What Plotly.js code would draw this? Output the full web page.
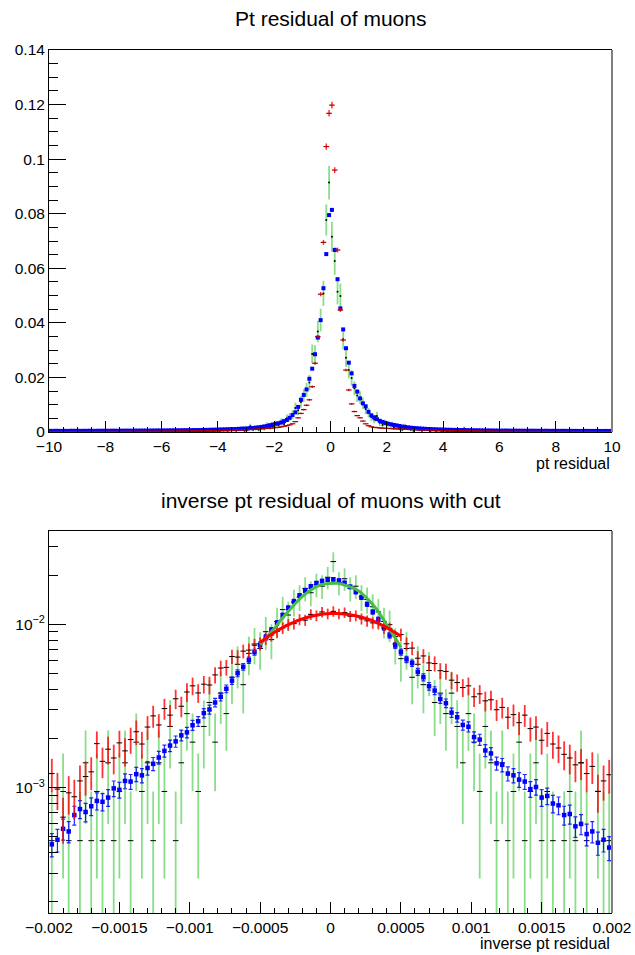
<!DOCTYPE html>
<html><head><meta charset="utf-8">
<script src="https://cdn.plot.ly/plotly-3.0.1.min.js"></script>
<style>html,body{margin:0;padding:0;background:#fff}#chart{width:635px;height:955px}</style>
</head><body><div id="chart"></div>
<script>
// ---------- binning (data ranges) ----------
const topRange = [-10, 10];
const topNBins = 200;
const botRange = [-0.002, 0.002];
const botNBins = 100;

// ---------- texts ----------
const topTitle = "Pt residual of muons";
const botTitle = "inverse pt residual of muons with cut";
const topXTitle = "pt residual";
const botXTitle = "inverse pt residual";
const botXTickVals = [-0.002,-0.0015,-0.001,-0.0005,0,0.0005,0.001,0.0015,0.002];
const botXTickText = ["\u22120.002","\u22120.0015","\u22120.001","\u22120.0005","0","0.0005","0.001","0.0015","0.002"];
const botYTickVals = [0.001, 0.01];
const botYTickText = ["10<sup>\u22123</sup>","10<sup>\u22122</sup>"];
const botYMinorVals = [2e-4,3e-4,4e-4,5e-4,6e-4,7e-4,8e-4,9e-4,2e-3,3e-3,4e-3,5e-3,6e-3,7e-3,8e-3,9e-3,2e-2,3e-2];

// ---------- top panel: Pt residual (200 bins) ----------
const topBlue = [
0.00042,0.00039,0.00044,0.00041,0.00040,0.00043,0.00038,0.00042,0.00045,0.00041,0.00043,0.00040,0.00044,0.00042,0.00046,0.00043,0.00041,0.00045,0.00044,0.00047,
0.00045,0.00043,0.00048,0.00046,0.00044,0.00049,0.00047,0.00050,0.00048,0.00046,0.00051,0.00049,0.00052,0.00050,0.00053,0.00051,0.00054,0.00052,0.00056,0.00055,
0.00057,0.00055,0.00058,0.00060,0.00059,0.00062,0.00061,0.00064,0.00066,0.00065,0.00068,0.00070,0.00069,0.00073,0.00075,0.00077,0.00079,0.00082,0.00084,0.00087,
0.00090,0.00093,0.00096,0.00100,0.00103,0.00107,0.00111,0.00116,0.00121,0.00126,0.00132,0.00140,0.00149,0.00160,0.00172,0.00186,0.00205,0.00225,0.00250,0.00275,
0.0030,0.0032,0.0035,0.0040,0.0044,0.0052,0.0062,0.0072,0.0092,0.0118,0.0136,0.0156,0.0195,0.0232,0.0285,0.0346,0.0410,0.0527,0.0652,0.0795,
0.0814,0.0667,0.0560,0.0453,0.0376,0.0307,0.0254,0.0215,0.0169,0.0148,0.0123,0.0105,0.0094,0.0074,0.0061,0.0054,0.0047,0.0041,0.0037,0.0033,
0.0030,0.0028,0.0026,0.0024,0.0022,0.0020,0.00185,0.0017,0.00158,0.00147,0.00138,0.00130,0.00123,0.00117,0.00111,0.00106,0.00101,0.00097,0.00093,0.00089,
0.00086,0.00083,0.00080,0.00078,0.00075,0.00073,0.00071,0.00069,0.00067,0.00065,0.00063,0.00062,0.00060,0.00059,0.00057,0.00056,0.00055,0.00053,0.00052,0.00051,
0.00050,0.00049,0.00051,0.00048,0.00047,0.00049,0.00046,0.00047,0.00045,0.00046,0.00044,0.00046,0.00045,0.00043,0.00044,0.00042,0.00044,0.00043,0.00041,0.00043,
0.00042,0.00040,0.00043,0.00041,0.00039,0.00042,0.00040,0.00041,0.00038,0.00040,0.00042,0.00039,0.00040,0.00038,0.00041,0.00039,0.00037,0.00040,0.00038,0.00039];
const topBlueErr = [
0.000043,0.000043,0.000043,0.000043,0.000043,0.000043,0.000043,0.000043,0.000043,0.000043,0.000043,0.000043,0.000043,0.000043,0.000043,0.000043,0.000043,0.000043,0.000043,0.000043,
0.000045,0.000045,0.000045,0.000045,0.000045,0.000045,0.000045,0.000045,0.000045,0.000045,0.000048,0.000048,0.000048,0.000048,0.000048,0.000048,0.000048,0.000048,0.000048,0.000048,
0.000051,0.000051,0.000051,0.000051,0.000051,0.000053,0.000053,0.000053,0.000053,0.000053,0.000056,0.000056,0.000056,0.000056,0.000056,0.000060,0.000060,0.000060,0.000060,0.000060,
0.000064,0.000065,0.000066,0.000067,0.000068,0.000069,0.000071,0.000072,0.000074,0.000075,0.000077,0.000079,0.000082,0.000085,0.000088,0.000091,0.000096,0.000101,0.000106,0.000111,
0.000116,0.00012,0.000126,0.000134,0.000141,0.000153,0.000167,0.00018,0.000203,0.00023,0.000247,0.000265,0.000296,0.000323,0.000358,0.000395,0.00043,0.000487,0.000542,0.000598,
0.000605,0.000548,0.000502,0.000452,0.000411,0.000372,0.000338,0.000311,0.000276,0.000258,0.000235,0.000217,0.000206,0.000182,0.000166,0.000156,0.000145,0.000136,0.000129,0.000122,
0.000116,0.000112,0.000108,0.000104,0.0001,0.000095,0.000091,0.000087,0.000084,0.000081,0.000079,0.000076,0.000074,0.000073,0.000071,0.000069,0.000067,0.000066,0.000065,0.000063,
0.000062,0.000062,0.000062,0.000062,0.000062,0.000058,0.000058,0.000058,0.000058,0.000058,0.000054,0.000054,0.000054,0.000054,0.000054,0.00005,0.00005,0.00005,0.00005,0.00005,
0.000047,0.000047,0.000047,0.000047,0.000047,0.000047,0.000047,0.000047,0.000047,0.000047,0.000047,0.000047,0.000047,0.000047,0.000047,0.000047,0.000047,0.000047,0.000047,0.000047,
0.000043,0.000043,0.000043,0.000043,0.000043,0.000043,0.000043,0.000043,0.000043,0.000043,0.000043,0.000043,0.000043,0.000043,0.000043,0.000043,0.000043,0.000043,0.000043,0.000043];

const topRed = [
0.00016,0.00018,0.00015,0.00017,0.00016,0.00019,0.00016,0.00017,0.00018,0.00016,0.00019,0.00017,0.00018,0.00016,0.00018,0.00020,0.00018,0.00017,0.00019,0.00020,
0.00019,0.00020,0.00022,0.00019,0.00021,0.00022,0.00020,0.00022,0.00023,0.00021,0.00023,0.00024,0.00022,0.00025,0.00024,0.00026,0.00025,0.00027,0.00026,0.00028,
0.00029,0.00028,0.00030,0.00032,0.00031,0.00033,0.00035,0.00034,0.00036,0.00037,0.00039,0.00038,0.00041,0.00043,0.00042,0.00045,0.00047,0.00046,0.00049,0.00051,
0.00054,0.00056,0.00059,0.00062,0.00065,0.00068,0.00071,0.00075,0.00079,0.00083,0.00088,0.00093,0.00098,0.00104,0.00110,0.00116,0.00123,0.00131,0.00140,0.00150,
0.0016,0.0017,0.0019,0.0021,0.0023,0.0026,0.0030,0.0038,0.0052,0.0068,0.0082,0.0098,0.0118,0.0166,0.0252,0.0349,0.0505,0.0695,0.1046,0.1168,
0.1198,0.0960,0.0667,0.0447,0.0337,0.0227,0.0154,0.0103,0.0075,0.0060,0.0052,0.0040,0.0030,0.0023,0.0019,0.0017,0.0016,0.0015,0.0014,0.00135,
0.00130,0.00125,0.00120,0.00115,0.00110,0.00106,0.00101,0.00097,0.00093,0.00089,0.00085,0.00081,0.00078,0.00074,0.00071,0.00068,0.00065,0.00062,0.00060,0.00057,
0.00055,0.00053,0.00051,0.00049,0.00047,0.00045,0.00043,0.00042,0.00040,0.00039,0.00037,0.00036,0.00034,0.00033,0.00032,0.00031,0.00030,0.00029,0.00028,0.00027,
0.00026,0.00027,0.00025,0.00024,0.00025,0.00023,0.00024,0.00022,0.00023,0.00021,0.00022,0.00020,0.00021,0.00022,0.00019,0.00020,0.00021,0.00019,0.00018,0.00020,
0.00019,0.00018,0.00020,0.00017,0.00019,0.00018,0.00016,0.00018,0.00017,0.00019,0.00016,0.00017,0.00018,0.00016,0.00015,0.00017,0.00016,0.00015,0.00017,0.00016];
const topRedErr = [
0.000045,0.000045,0.000045,0.000045,0.000045,0.000045,0.000045,0.000045,0.000045,0.000045,0.000045,0.000045,0.000045,0.000045,0.000045,0.000045,0.000045,0.000045,0.000045,0.000045,
0.00005,0.00005,0.00005,0.00005,0.00005,0.00005,0.00005,0.00005,0.00005,0.00005,0.000055,0.000055,0.000055,0.000055,0.000055,0.000055,0.000055,0.000055,0.000055,0.000055,
0.00006,0.00006,0.00006,0.00006,0.00006,0.000065,0.000065,0.000065,0.000065,0.000065,0.000069,0.000069,0.000069,0.000069,0.000069,0.000075,0.000075,0.000075,0.000075,0.000075,
0.00008,0.000082,0.000084,0.000086,0.000088,0.00009,0.000092,0.000095,0.000097,0.0001,0.000103,0.000106,0.000108,0.000112,0.000115,0.000118,0.000121,0.000125,0.00013,0.000134,
0.000139,0.000143,0.000151,0.000159,0.000166,0.000177,0.00019,0.000214,0.00025,0.000286,0.000314,0.000343,0.000376,0.000446,0.00055,0.000647,0.000778,0.000913,0.00112,0.00118,
0.0012,0.00107,0.000895,0.000732,0.000636,0.000522,0.00043,0.000352,0.0003,0.000268,0.00025,0.000219,0.00019,0.000166,0.000151,0.000143,0.000139,0.000134,0.00013,0.000127,
0.000125,0.000122,0.00012,0.000117,0.000115,0.000113,0.00011,0.000108,0.000106,0.000103,0.000101,0.000099,0.000097,0.000094,0.000092,0.00009,0.000088,0.000086,0.000085,0.000083,
0.000081,0.00008,0.000078,0.000077,0.000075,0.000073,0.000072,0.000071,0.000069,0.000068,0.000067,0.000066,0.000064,0.000063,0.000062,0.000061,0.00006,0.000059,0.000058,0.000057,
0.000055,0.000055,0.000055,0.000055,0.000055,0.000055,0.000055,0.000055,0.000055,0.000055,0.000052,0.000052,0.000052,0.000052,0.000052,0.000052,0.000052,0.000052,0.000052,0.000052,
0.000048,0.000048,0.000048,0.000048,0.000048,0.000048,0.000048,0.000048,0.000048,0.000048,0.000048,0.000048,0.000048,0.000048,0.000048,0.000048,0.000048,0.000048,0.000048,0.000048];

const topGreen = [
0,0,0.00042,0,0,0,0,0,0.00042,0,0,0,0,0,0,0.00042,0,0,0,0,
0,0,0,0.00042,0,0,0,0,0,0,0.00042,0,0,0,0,0,0.00042,0,0,0,
0,0.00042,0,0,0,0.00042,0,0,0.00042,0,0,0,0.00084,0,0,0.00042,0,0,0.00042,0,
0.00042,0,0.00084,0.00042,0,0.00084,0.00042,0.00084,0.00126,0.00042,0.00084,0.0021,0.00084,0.00126,0.00084,0.00168,0.00126,0.00252,0.00168,0.0021,
0.00294,0.00252,0.00378,0.00294,0.00504,0.00546,0.0063,0.00882,0.00798,0.0110,0.0134,0.0155,0.0181,0.0286,0.0284,0.0368,0.0410,0.0508,0.0777,0.0914,
0.0716,0.0627,0.0514,0.0498,0.0340,0.0272,0.0227,0.0198,0.0160,0.0134,0.0126,0.0105,0.0084,0.00714,0.00546,0.00462,0.00588,0.00336,0.00252,0.00336,
0.00294,0.00252,0.00168,0.0021,0.00126,0.00084,0.0021,0.00126,0.00084,0.00042,0.00126,0.00084,0.00042,0.00084,0,0.00042,0.00084,0.00042,0,0.00042,
0,0.00042,0,0,0.00042,0,0,0.00126,0,0,0.00042,0,0,0,0.00042,0,0,0,0.00042,0,
0,0,0.00042,0,0,0,0,0,0,0.00042,0,0,0,0,0,0,0,0.00042,0,0,
0,0,0,0,0.00042,0,0,0,0,0,0,0,0,0,0.00042,0,0,0,0,0];
const topGreenErr = [
0,0,0.00042,0,0,0,0,0,0.00042,0,0,0,0,0,0,0.00042,0,0,0,0,
0,0,0,0.00042,0,0,0,0,0,0,0.00042,0,0,0,0,0,0.00042,0,0,0,
0,0.00042,0,0,0,0.00042,0,0,0.00042,0,0,0,0.00059,0,0,0.00042,0,0,0.00042,0,
0.00042,0,0.00059,0.00042,0,0.00059,0.00042,0.00059,0.00073,0.00042,0.00059,0.00094,0.00059,0.00073,0.00059,0.00084,0.00073,0.00103,0.00084,0.00094,
0.00111,0.00103,0.00126,0.00111,0.00145,0.00151,0.00163,0.00192,0.00183,0.00215,0.00237,0.00255,0.00276,0.00347,0.00345,0.00393,0.00415,0.00462,0.00571,0.0062,
0.00548,0.00513,0.00465,0.00457,0.00378,0.00338,0.00309,0.00288,0.00259,0.00237,0.0023,0.0021,0.00188,0.00173,0.00151,0.00139,0.00157,0.00119,0.00103,0.00119,
0.00111,0.00103,0.00084,0.00094,0.00073,0.00059,0.00094,0.00073,0.00059,0.00042,0.00073,0.00059,0.00042,0.00059,0,0.00042,0.00059,0.00042,0,0.00042,
0,0.00042,0,0,0.00042,0,0,0.00073,0,0,0.00042,0,0,0,0.00042,0,0,0,0.00042,0,
0,0,0.00042,0,0,0,0,0,0,0.00042,0,0,0,0,0,0,0,0.00042,0,0,
0,0,0,0,0.00042,0,0,0,0,0,0,0,0,0,0.00042,0,0,0,0,0];

// ---------- bottom panel: inverse pt residual (100 bins) ----------
const botBlue = [
0.00045,0.00048,0.00056,0.00054,0.00068,0.00074,0.00071,0.00077,0.00083,0.00082,
0.00087,0.00099,0.00097,0.00110,0.00109,0.00121,0.00119,0.00132,0.00140,0.00153,
0.00168,0.00181,0.00192,0.00209,0.00218,0.00241,0.00255,0.00286,0.00301,0.00332,
0.00360,0.00403,0.00452,0.00502,0.00550,0.00603,0.00675,0.00747,0.00832,0.00922,
0.01020,0.01135,0.01260,0.01380,0.01500,0.01605,0.01705,0.01785,0.01840,0.01875,
0.01885,0.01850,0.01790,0.01695,0.01580,0.01460,0.01325,0.01190,0.01070,0.00953,
0.00856,0.00742,0.00676,0.00610,0.00578,0.00512,0.00474,0.00418,0.00393,0.00349,
0.00329,0.00288,0.00270,0.00242,0.00236,0.00204,0.00197,0.00169,0.00162,0.00141,
0.00138,0.00122,0.00119,0.00112,0.00109,0.00098,0.00101,0.00087,0.00089,0.00080,
0.00078,0.00068,0.00069,0.00058,0.00060,0.00052,0.00054,0.00046,0.00048,0.00043];
const botBlueErr = [
0.000073,0.000076,0.000082,0.00008,0.00009,0.000094,0.000092,0.000096,0.0001,0.000099,
0.000102,0.000109,0.000108,0.000115,0.000114,0.00012,0.000119,0.000126,0.00013,0.000136,
0.000142,0.000147,0.000152,0.000158,0.000162,0.00017,0.000175,0.000185,0.00019,0.0002,
0.000208,0.00022,0.000233,0.000245,0.000257,0.000269,0.000285,0.000299,0.000316,0.000333,
0.00035,0.000369,0.000389,0.000407,0.000424,0.000439,0.000452,0.000463,0.00047,0.000474,
0.000476,0.000471,0.000463,0.000451,0.000435,0.000419,0.000399,0.000378,0.000358,0.000338,
0.00032,0.000298,0.000285,0.000271,0.000263,0.000248,0.000238,0.000224,0.000217,0.000205,
0.000199,0.000186,0.00018,0.00017,0.000168,0.000156,0.000154,0.000142,0.000139,0.00013,
0.000129,0.000121,0.000119,0.000116,0.000114,0.000108,0.00011,0.000102,0.000103,0.000098,
0.000097,0.00009,0.000091,0.000083,0.000085,0.000079,0.00008,0.000074,0.000076,0.000072];

const botRed = [
0.00122,0.00098,0.00066,0.00093,0.00088,0.00110,0.00117,0.00125,0.00186,0.00145,
0.00172,0.00152,0.00188,0.00168,0.00197,0.00220,0.00185,0.00235,0.00275,0.00242,
0.00305,0.00278,0.00350,0.00315,0.00385,0.00420,0.00380,0.00430,0.00425,0.00490,
0.00540,0.00545,0.00635,0.00630,0.00685,0.00695,0.00745,0.00760,0.00820,0.00860,
0.00905,0.00950,0.00995,0.01010,0.01070,0.01060,0.01150,0.01130,0.01190,0.01160,
0.01200,0.01160,0.01180,0.01120,0.01130,0.01080,0.01050,0.01020,0.01010,0.00950,
0.00945,0.00840,0.00865,0.00760,0.00715,0.00620,0.00640,0.00580,0.00575,0.00520,
0.00515,0.00455,0.00440,0.00410,0.00420,0.00360,0.00375,0.00340,0.00345,0.00300,
0.00310,0.00270,0.00280,0.00250,0.00278,0.00230,0.00235,0.00195,0.00215,0.00185,
0.00175,0.00160,0.00152,0.00138,0.00142,0.00122,0.00135,0.00095,0.00110,0.00120];
const botRedErr = [
0.000282,0.000252,0.000207,0.000246,0.000239,0.000267,0.000276,0.000285,0.000348,0.000307,
0.000334,0.000314,0.00035,0.00033,0.000358,0.000378,0.000347,0.000391,0.000423,0.000397,
0.000445,0.000425,0.000477,0.000452,0.0005,0.000522,0.000497,0.000529,0.000526,0.000564,
0.000592,0.000595,0.000642,0.00064,0.000667,0.000672,0.000696,0.000703,0.00073,0.000748,
0.000767,0.000786,0.000804,0.00081,0.000834,0.00083,0.000865,0.000857,0.00088,0.000868,
0.000883,0.000868,0.000876,0.000853,0.000857,0.000838,0.000826,0.000814,0.00081,0.000786,
0.000784,0.000739,0.00075,0.000703,0.000682,0.000635,0.000645,0.000614,0.000611,0.000581,
0.000579,0.000544,0.000535,0.000516,0.000522,0.000484,0.000494,0.00047,0.000474,0.000442,
0.000449,0.000419,0.000427,0.000403,0.000425,0.000387,0.000391,0.000356,0.000374,0.000347,
0.000337,0.000322,0.000314,0.0003,0.000304,0.000282,0.000296,0.000248,0.000267,0.000279];

const botGreen = [
0.000474,0,0.000948,0.000474,0,0.000474,0.00142,0.000474,0.000948,0.000474,
0.00142,0.000474,0.000948,0.00142,0.000474,0.0019,0.000948,0.00142,0.000474,0.00142,
0.000948,0.00237,0.000474,0.00142,0.00284,0.0019,0.000948,0.00237,0.00332,0.0019,
0.00379,0.00284,0.00474,0.00569,0.00427,0.00664,0.00758,0.00711,0.00901,0.00806,
0.0104,0.0123,0.0114,0.0137,0.0147,0.0166,0.0156,0.0175,0.0171,0.0194,
0.0242,0.018,0.019,0.0166,0.0171,0.0147,0.0142,0.0128,0.0119,0.0104,
0.00995,0.00758,0.00616,0.00711,0.00474,0.00569,0.00427,0.00521,0.00332,0.00379,
0.00284,0.00379,0.00237,0.00142,0.00284,0.0019,0.000948,0.00237,0.00142,0.000474,
0.00142,0.000474,0.000948,0.0019,0.000474,0.000948,0.00142,0.000474,0.000948,0.000474,
0,0.000474,0.000948,0.000474,0.00142,0.000474,0,0.000948,0.000474,0.000474];
const botGreenErr = [
0.000474,0,0.00067,0.000474,0,0.000474,0.000821,0.000474,0.00067,0.000474,
0.000821,0.000474,0.00067,0.000821,0.000474,0.000948,0.00067,0.000821,0.000474,0.000821,
0.00067,0.00106,0.000474,0.000821,0.00116,0.000948,0.00067,0.00106,0.00125,0.000948,
0.00134,0.00116,0.0015,0.00164,0.00142,0.00177,0.0019,0.00184,0.00207,0.00195,
0.00222,0.00242,0.00232,0.00255,0.00264,0.0028,0.00272,0.00288,0.00284,0.00304,
0.00339,0.00292,0.003,0.0028,0.00284,0.00264,0.0026,0.00246,0.00237,0.00222,
0.00217,0.0019,0.00171,0.00184,0.0015,0.00164,0.00142,0.00157,0.00125,0.00134,
0.00116,0.00134,0.00106,0.000821,0.00116,0.000948,0.00067,0.00106,0.000821,0.000474,
0.000821,0.000474,0.00067,0.000948,0.000474,0.00067,0.000821,0.000474,0.00067,0.000474,
0,0.000474,0.00067,0.000474,0.000821,0.000474,0,0.00067,0.000474,0.000474];

// Gaussian fit curves
const fitX = [-0.0005,-0.00045,-0.0004,-0.00035,-0.0003,-0.00025,-0.0002,-0.00015,-0.0001,-0.00005,0,0.00005,0.0001,0.00015,0.0002,0.00025,0.0003,0.00035,0.0004,0.00045,0.0005];
const redFitY = [0.00774,0.00833,0.0089,0.00944,0.00994,0.01039,0.01079,0.01112,0.01137,0.01155,0.01165,0.01165,0.01157,0.0114,0.01117,0.01085,0.01048,0.01003,0.00954,0.009,0.00845];
const greenFitY = [0.0075,0.0084,0.0094,0.0107,0.0120,0.0134,0.0148,0.0160,0.0170,0.0176,0.0178,0.0178,0.0174,0.0168,0.0160,0.0147,0.0132,0.0116,0.0099,0.0085,0.0072];

// ---------- checks ----------
[topBlue,topBlueErr,topRed,topRedErr,topGreen,topGreenErr].forEach((a,i)=>{
  if(a.length!==topNBins) throw new Error('top array #'+i+' has length '+a.length);
});
[botBlue,botBlueErr,botRed,botRedErr,botGreen,botGreenErr].forEach((a,i)=>{
  if(a.length!==botNBins) throw new Error('bottom array #'+i+' has length '+a.length);
});

function centers(range, n){
  const w=(range[1]-range[0])/n;
  return Array.from({length:n},(_,i)=>range[0]+(i+0.5)*w);
}
const xTop = centers(topRange, topNBins);
const xBot = centers(botRange, botNBins);
const nz = a => a.map(v => v>0 ? v : null);

const GREEN_BAR = 'rgba(60,200,60,0.6)';
const traces = [
  // top panel
  {x:xTop, y:nz(topGreen), xaxis:'x', yaxis:'y', type:'scatter', mode:'markers',
   marker:{color:'#000', size:2, symbol:'circle'},
   error_y:{type:'data', array:topGreenErr, color:GREEN_BAR, thickness:1.8, width:0}},
  {x:xTop, y:topBlue, xaxis:'x', yaxis:'y', type:'scatter', mode:'markers',
   marker:{color:'#0000ff', size:4, symbol:'square', line:{width:0}},
   error_y:{type:'data', array:topBlueErr, color:'#0000ff', thickness:1, width:0}},
  {x:xTop, y:topRed, xaxis:'x', yaxis:'y', type:'scatter', mode:'markers',
   marker:{symbol:'line-ew-open', size:4, color:'#aa0000', line:{color:'#aa0000', width:1.2}},
   error_y:{type:'data', array:topRedErr, color:'rgba(255,0,0,0.85)', thickness:1.4, width:0}},
  // bottom panel
  {x:xBot, y:nz(botGreen), xaxis:'x2', yaxis:'y2', type:'scatter', mode:'markers',
   marker:{symbol:'line-ew-open', size:4, color:'#000', line:{color:'#000', width:1}},
   error_y:{type:'data', array:botGreenErr, color:GREEN_BAR, thickness:1.8, width:0}},
  {x:xBot, y:botBlue, xaxis:'x2', yaxis:'y2', type:'scatter', mode:'markers',
   marker:{color:'#0000ff', size:4.5, symbol:'square', line:{width:0}},
   error_y:{type:'data', array:botBlueErr, color:'rgba(0,0,255,0.85)', thickness:1.2, width:2}},
  {x:xBot, y:botRed, xaxis:'x2', yaxis:'y2', type:'scatter', mode:'markers',
   marker:{symbol:'line-ew-open', size:4, color:'#000', line:{color:'#000', width:1}},
   error_y:{type:'data', array:botRedErr, color:'rgba(255,0,0,0.8)', thickness:1.8, width:0}},
  {x:fitX, y:greenFitY, xaxis:'x2', yaxis:'y2', type:'scatter', mode:'lines',
   line:{color:'rgb(70,190,70)', width:3, shape:'spline'}},
  {x:fitX, y:redFitY, xaxis:'x2', yaxis:'y2', type:'scatter', mode:'lines',
   line:{color:'#ff0000', width:3, shape:'spline'}}
];

const W=635, H=955;
const XL=49, XR=612;
const xDom=[XL/W, XR/W];
const axisCommon = {showgrid:false, zeroline:false, showline:true, linecolor:'#000', linewidth:1,
  ticks:'inside', tickcolor:'#000', tickwidth:1, tickfont:{size:15.5, color:'#000'}};

const layout = {
  width:W, height:H, margin:{l:0,r:0,t:0,b:0},
  paper_bgcolor:'#fff', plot_bgcolor:'#fff', showlegend:false,
  font:{family:'"Liberation Sans", Arial, Helvetica, sans-serif', size:15.5, color:'#000'},
  xaxis: Object.assign({}, axisCommon, {domain:xDom, anchor:'y', range:topRange, tickmode:'linear', tick0:-10, dtick:2,
    ticklen:11, mirror:true, minor:{ticks:'inside', dtick:0.5, tick0:-10, ticklen:5.5, tickcolor:'#000', showgrid:false}}),
  yaxis: Object.assign({}, axisCommon, {domain:[1-432/H, 1-50/H], anchor:'x', range:[0,0.14], tickmode:'linear', tick0:0, dtick:0.02,
    ticklen:17, minor:{ticks:'inside', dtick:0.005, tick0:0, ticklen:8.5, tickcolor:'#000', showgrid:false}}),
  xaxis2: Object.assign({}, axisCommon, {domain:xDom, anchor:'y2', range:botRange, tickmode:'array', tickvals:botXTickVals, ticktext:botXTickText,
    ticklen:11, mirror:true, minor:{ticks:'inside', dtick:0.0001, tick0:-0.002, ticklen:5.5, tickcolor:'#000', showgrid:false}}),
  yaxis2: Object.assign({}, axisCommon, {domain:[1-913/H, 1-531/H], anchor:'x2', type:'log', range:[-3.767,-1.429],
    tickmode:'array', tickvals:botYTickVals, ticktext:botYTickText, ticklen:17,
    minor:{ticks:'inside', tickmode:'array', tickvals:botYMinorVals, ticklen:8.5, tickcolor:'#000', showgrid:false}}),
  shapes:[
    {type:'line', xref:'x domain', yref:'y domain', x0:1, x1:1, y0:0, y1:1, line:{color:'#808080', width:2}},
    {type:'line', xref:'x2 domain', yref:'y2 domain', x0:1, x1:1, y0:0, y1:1, line:{color:'#808080', width:2}}
  ],
  annotations:[
    {text:topTitle, xref:'paper', yref:'paper', x:330/W, y:1-19/H, xanchor:'center', yanchor:'middle', showarrow:false, font:{size:21}},
    {text:botTitle, xref:'paper', yref:'paper', x:331/W, y:1-500/H, xanchor:'center', yanchor:'middle', showarrow:false, font:{size:21}},
    {text:topXTitle, xref:'paper', yref:'paper', x:XR/W, y:1-463/H, xanchor:'right', yanchor:'middle', showarrow:false, font:{size:16}},
    {text:botXTitle, xref:'paper', yref:'paper', x:XR/W, y:1-943/H, xanchor:'right', yanchor:'middle', showarrow:false, font:{size:16}}
  ]
};

Plotly.newPlot('chart', traces, layout, {staticPlot:true, displayModeBar:false});
</script>
</body></html>
